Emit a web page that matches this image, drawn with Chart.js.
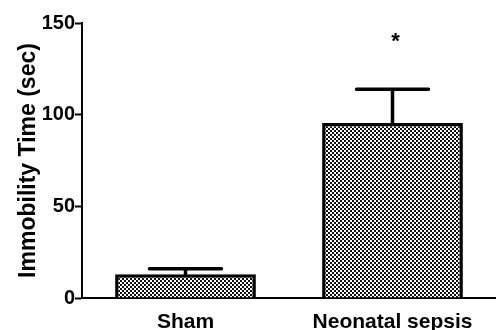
<!DOCTYPE html>
<html>
<head>
<meta charset="utf-8">
<script src="https://cdn.jsdelivr.net/npm/chart.js@4"></script>
<style>
  html, body { margin: 0; padding: 0; background: #fff; }
  #wrap { width: 496px; height: 330px; position: relative; }
</style>
</head>
<body>
<div id="wrap"><canvas id="chart"></canvas></div>
<script>
// groups and values
const groups = ['Sham', 'Neonatal sepsis'];
const meanTime = [13, 95.5];
const semTime = [3, 18.3];
const marks = ['', '*'];
const yTicks = [0, 50, 100, 150];

// checkered fill like the original prism plot
function makePattern() {
    const c = document.createElement('canvas');
    c.width = 4; c.height = 4;
    const g = c.getContext('2d');
    g.fillStyle = '#fff';
    g.fillRect(0, 0, 4, 4);
    g.fillStyle = '#111';
    g.fillRect(0, 0, 2, 2);
    g.fillRect(2, 2, 2, 2);
    return g.createPattern(c, 'repeat');
}

const errorBars = {
    id: 'errorBars',
    afterDatasetsDraw(chart) {
        const ctx = chart.ctx;
        const x = chart.scales.x, y = chart.scales.y;
        ctx.save();
        ctx.strokeStyle = '#000';
        ctx.lineWidth = 3.5;
        ctx.lineCap = 'round';
        groups.forEach((g, i) => {
            const cx = x.getPixelForValue(i);
            const yTop = y.getPixelForValue(meanTime[i]);
            const yErr = y.getPixelForValue(meanTime[i] + semTime[i]);
            ctx.beginPath();
            ctx.moveTo(cx, yTop);
            ctx.lineTo(cx, yErr);
            ctx.moveTo(cx - 36, yErr);
            ctx.lineTo(cx + 36, yErr);
            ctx.stroke();
            if (marks[i]) {
                ctx.fillStyle = '#000';
                ctx.font = 'bold 22px "Liberation Sans", Arial, sans-serif';
                ctx.textAlign = 'center';
                ctx.textBaseline = 'middle';
                ctx.fillText(marks[i], cx + 3, yErr - 47);
            }
        });
        ctx.restore();
    }
};

const ctx = document.getElementById('chart').getContext('2d');
new Chart(ctx, {
    type: 'bar',
    data: {
        labels: groups,
        datasets: [{
            data: meanTime,
            backgroundColor: makePattern(),
            borderColor: '#000',
            borderWidth: 3.5,
            borderSkipped: 'bottom',
            barPercentage: 0.68,
            categoryPercentage: 1.0
        }]
    },
    options: {
        responsive: true,
        maintainAspectRatio: false,
        animation: false,
        layout: { padding: { top: 23, right: 0, left: 0, bottom: 0 } },
        plugins: { legend: { display: false }, tooltip: { enabled: false } },
        scales: {
            x: {
                grid: { display: false, drawOnChartArea: false, drawTicks: true, tickLength: 7, tickWidth: 2, tickColor: '#000' },
                border: { color: '#000', width: 2 },
                ticks: { color: '#000', padding: 5, font: { family: 'Liberation Sans', size: 21, weight: 'bold' } },
                afterFit(s) { s.height = 32; }
            },
            y: {
                min: 0, max: 150,
                afterBuildTicks(s) { s.ticks = yTicks.map(v => ({ value: v })); },
                grid: { display: true, drawOnChartArea: false, drawTicks: true, tickLength: 7, tickWidth: 2, tickColor: '#000' },
                border: { color: '#000', width: 2 },
                ticks: { color: '#000', padding: 0, font: { family: 'Liberation Sans', size: 20, weight: 'bold' } },
                title: { display: true, text: 'Immobility Time (sec)', color: '#000', padding: { top: 15, bottom: 0 }, font: { family: 'Liberation Sans', size: 23, weight: 'bold' } },
                afterFit(s) { s.width = 82; }
            }
        }
    },
    plugins: [errorBars]
});
</script>
</body>
</html>
